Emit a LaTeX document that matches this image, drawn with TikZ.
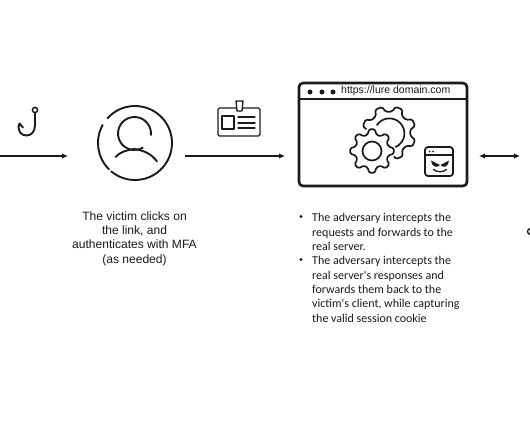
\documentclass[tikz,border=0pt]{standalone}
\usepackage{fontspec}
\setmainfont{Liberation Sans}
\newfontfamily\bodyfont{Carlito}
\usetikzlibrary{arrows.meta,calc}
\definecolor{ink}{HTML}{1A1A1A}
\tikzset{
  arr/.style={draw=ink,line width=1.2pt,-{Latex[length=6pt,width=5.5pt]}},
  darr/.style={draw=ink,line width=1.2pt,{Latex[length=6pt,width=5.5pt]}-{Latex[length=6pt,width=5.5pt]}},
  icon/.style={draw=ink,line width=1.9pt,line cap=round,line join=round},
  thin icon/.style={draw=ink,line width=1.3pt,line cap=round,line join=round},
  caption/.style={align=center,text=ink,inner sep=0pt,font=\fontsize{12.05}{14.3}\selectfont},
  bullets/.style={align=left,anchor=north west,text=ink,inner sep=0pt,font=\bodyfont\fontsize{12}{14.35}\selectfont},
  bulletdot/.style={circle,fill=ink,inner sep=0pt,minimum size=3.2pt}
}
\newcommand{\gearpath}[7]{% style cx cy rout rin teeth rot
  \pgfmathsetmacro{\st}{360/#6}
  \pgfmathsetmacro{\lastt}{int(#6-1)}
  \path[#1] ($(#2,#3)+({#7-\st*0.32}:#5)$)
  \foreach \k in {0,...,\lastt}{
    -- ($(#2,#3)+({#7+\k*\st-\st*0.17}:#4)$)
    -- ($(#2,#3)+({#7+\k*\st+\st*0.17}:#4)$)
    -- ($(#2,#3)+({#7+\k*\st+\st*0.32}:#5)$)
    -- ($(#2,#3)+({#7+\k*\st+\st*0.68}:#5)$)
  } -- cycle;
}
\begin{document}
\begin{tikzpicture}[x=1pt,y=-1pt]
\useasboundingbox (0,0) rectangle (530,442);
\coordinate (a1s) at (0,156);
\coordinate (a1e) at (68,156);
\coordinate (a2s) at (185,156);
\coordinate (a2e) at (285,156);
\coordinate (a3s) at (479,156);
\coordinate (a3e) at (520,156);
\draw[arr] (a1s) -- (a1e);
\draw[arr] (a2s) -- (a2e);
\draw[darr] (a3s) -- (a3e);
% hook
\draw[icon,line width=1.5pt] (35,110) circle (2.6);
\draw[icon] (35,112.8) -- (35,125) .. controls (35,132) and (31,135.5) .. (26.5,135.5)
  .. controls (21,135.5) and (18.5,131.5) .. (18.5,126.5) -- (19.5,123.5) -- (23,127.5);
% person
\coordinate (ringc) at (135,143);
\draw[icon] (ringc) ++(222:37) arc[start angle=222,end angle=490,radius=37];
\draw[icon] (ringc) ++(135:37) arc[start angle=135,end angle=209,radius=37];
\coordinate (headc) at (134.5,133.5);
\draw[icon] (headc) ++(5:16.5) arc[start angle=5,end angle=-300,radius=16.5];
\draw[icon] (115.5,157) .. controls (120,152) and (127,150) .. (134,149) .. controls (142,150) and (151,153) .. (157,161.5);
% badge
\draw[thin icon,fill=white,rounded corners=1.5pt] (218,108) rectangle (260,136);
\draw[thin icon,fill=white] (236,101) -- (243,101) -- (242,111) -- (237,111) -- cycle;
\draw[thin icon] (222,116) rectangle (234,129);
\draw[thin icon] (238,117) -- (255,117) (238,123) -- (255,123) (238,128) -- (255,128);
% browser
\draw[icon,line width=2.6pt,rounded corners=4pt] (299,83) rectangle (467,186);
\draw[icon,line width=2.2pt] (299,99) -- (467,99);
\foreach \dx in {310,322,333}{\fill[ink] (\dx,92) circle (2.5);}
\node[anchor=west,inner sep=0pt,text=ink,font=\fontsize{10.5}{12}\selectfont] (url) at (341,91) {https://lure domain.com};
% gears
\gearpath{thin icon,line width=1.7pt,rounded corners=1.5pt}{389}{133}{27}{21.5}{8}{22}
\draw[thin icon,line width=1.7pt] (389.4,133.4) ++(-146:15) arc[start angle=-146,end angle=70,radius=15];
\gearpath{draw=white,line width=5pt,fill=white,rounded corners=1.5pt}{372}{151}{22}{17}{8}{0}
\gearpath{thin icon,line width=1.7pt,fill=white,rounded corners=1.5pt}{372}{151}{22}{17}{8}{0}
\draw[thin icon,line width=1.7pt] (372,151) circle (9.5);
% adversary window
\draw[icon,line width=1.8pt,rounded corners=3pt] (425,147) rectangle (453,176);
\draw[thin icon] (425,155) -- (453,155);
\fill[ink] (429.5,151.5) circle (1) (433,151.5) circle (1);
\fill[ink] (431,160.5) -- (440,165) .. controls (437.5,168.5) and (431.5,167) .. (431,160.5) -- cycle;
\fill[ink] (449,160.5) -- (440.5,165) .. controls (443,168.5) and (448.5,167) .. (449,160.5) -- cycle;
\draw[thin icon] (433.5,169.5) .. controls (437,172.5) and (443,172.5) .. (446.5,169.5);
% texts
\node[caption] (cap) at (134.5,238.5) {The victim clicks on\\the link, and\\authenticates with MFA\\(as needed)};
\node[bulletdot] (b1) at (301,216.5) {};
\node[bullets] (t1) at (312,213.2) {The adversary intercepts the\\requests and forwards to the\\real server.};
\node[bulletdot] (b2) at (301,259.5) {};
\node[bullets] (t2) at (312,256.4) {The adversary intercepts the\\real server's responses and\\forwards them back to the\\victim's client, while capturing\\the valid session cookie};
% clipped fragment at the right edge
\draw[draw=ink,line width=1.3pt] (530.5,228.5) arc[start angle=-90,end angle=-270,radius=3];
\end{tikzpicture}
\end{document}
